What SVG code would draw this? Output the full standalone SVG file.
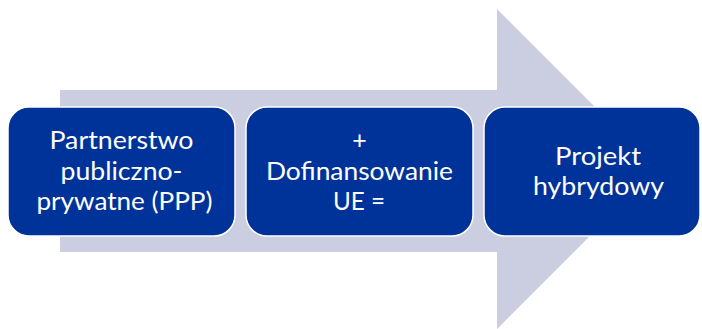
<svg xmlns="http://www.w3.org/2000/svg" width="702" height="329" viewBox="0 0 702 329">
<style>
.box{fill:#003399;stroke:#ffffff;stroke-width:1.5}
.t{font-family:Lato,"Open Sans",sans-serif;font-size:25px;fill:#ffffff;text-anchor:middle}
</style>
<rect width="702" height="329" fill="#ffffff"/>
<g id="arrow">
<polygon points="60,90 497,90 497,9 657,169 497,329 497,252 60,252" fill="#cbcde0"/>
</g>
<g id="connectors"></g>
<g id="node1">
<rect class="box" x="8" y="107" width="227" height="129" rx="21"/>
<text class="t" x="121.5" y="149" textLength="144" lengthAdjust="spacingAndGlyphs">Partnerstwo</text>
<text class="t" x="121.5" y="180" textLength="122" lengthAdjust="spacingAndGlyphs">publiczno-</text>
<text class="t" x="124.5" y="210" textLength="176" lengthAdjust="spacingAndGlyphs">prywatne (PPP)</text>
</g>
<g id="node2">
<rect class="box" x="246" y="107" width="227" height="129" rx="21"/>
<text class="t" x="359.5" y="149">+</text>
<text class="t" x="359.5" y="180" textLength="187" lengthAdjust="spacingAndGlyphs">Dofinansowanie</text>
<text class="t" x="359" y="210" textLength="52" lengthAdjust="spacingAndGlyphs">UE =</text>
</g>
<g id="node3">
<rect class="box" x="484" y="107" width="216" height="129" rx="21"/>
<text class="t" x="598" y="165" textLength="86" lengthAdjust="spacingAndGlyphs">Projekt</text>
<text class="t" x="598.5" y="195" textLength="131" lengthAdjust="spacingAndGlyphs">hybrydowy</text>
</g>
</svg>
